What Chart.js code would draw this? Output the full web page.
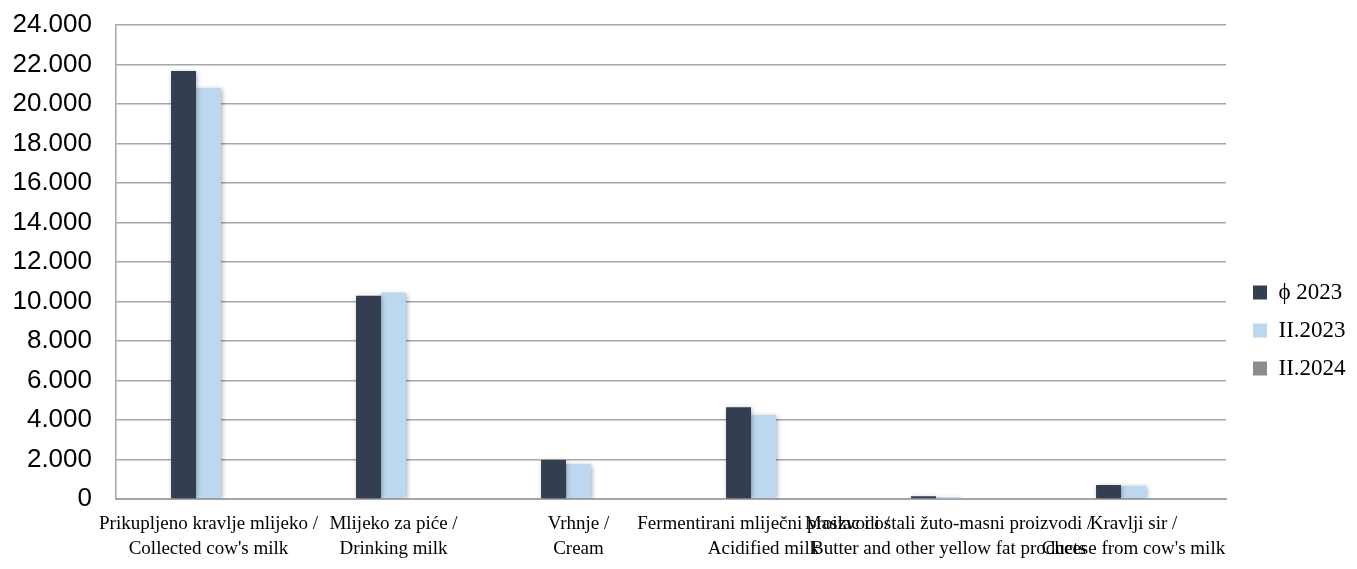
<!DOCTYPE html>
<html lang="hr">
<head>
    <meta charset="UTF-8">
    <title>Mlijeko i mliječni proizvodi</title>
    <script src="https://cdn.jsdelivr.net/npm/chart.js"></script>
    <style>
        html, body { margin: 0; padding: 0; background: #fff; }
        #wrap { width: 1357px; height: 569px; }
    </style>
</head>
<body>
<div id="wrap"><canvas id="milkChart"></canvas></div>

<script>
    // categories (two-line labels, Croatian / English)
    const categories = [
        ["Prikupljeno kravlje mlijeko /", "Collected cow's milk"],
        ["Mlijeko za piće /", "Drinking milk"],
        ["Vrhnje /", "Cream"],
        ["Fermentirani mliječni proizvodi /", "Acidified milk"],
        ["Maslac i ostali žuto-masni proizvodi /", "Butter and other yellow fat products"],
        ["Kravlji sir /", "Cheese from cow's milk"]
    ];
    const seriesNames = ["ϕ 2023", "II.2023", "II.2024"];
    const avg2023 = [21670, 10290, 1980, 4640, 140, 710];
    const feb2023 = [20810, 10450, 1770, 4250, 90, 660];
    const feb2024 = [0, 0, 0, 0, 0, 0];
    const yTicksMax = 24000;
    const yTickStep = 2000;

    const fmt = v => String(v).replace(/\B(?=(\d{3})+(?!\d))/g, ".");

    // push the legend a bit away from the plot, like the original
    const legendNudge = {
        id: "legendNudge",
        afterLayout(chart) {
            chart.legend.left += 12;
            chart.legend.right += 12;
        }
    };

    // soft shadow round the bars
    const barShadow = {
        id: "barShadow",
        beforeDatasetsDraw(chart) {
            const ctx = chart.ctx;
            ctx.save();
            ctx.shadowColor = "rgba(0, 0, 0, 0.35)";
            ctx.shadowBlur = 5;
            ctx.shadowOffsetX = 1;
            ctx.shadowOffsetY = 1;
        },
        afterDatasetsDraw(chart) {
            chart.ctx.restore();
        }
    };

    new Chart(document.getElementById("milkChart"), {
        type: "bar",
        data: {
            labels: categories,
            datasets: [
                { label: seriesNames[0], data: avg2023, backgroundColor: "#333f50" },
                { label: seriesNames[1], data: feb2023, backgroundColor: "#bdd7ee" },
                { label: seriesNames[2], data: feb2024, backgroundColor: "#8c8c8c" }
            ]
        },
        plugins: [legendNudge, barShadow],
        options: {
            responsive: true,
            maintainAspectRatio: false,
            animation: false,
            layout: { padding: 0 },
            datasets: { bar: { categoryPercentage: 0.405, barPercentage: 1.0 } },
            scales: {
                x: {
                    grid: { display: false, drawTicks: false },
                    border: { color: "#a6a6a6", width: 2 },
                    ticks: {
                        color: "#000",
                        autoSkip: false,
                        maxRotation: 0,
                        minRotation: 0,
                        padding: 12,
                        font: { family: "'Liberation Serif', serif", size: 19, lineHeight: 1.35 }
                    },
                    afterFit: s => {
                        s.height = 70;
                        s.paddingLeft = 0;
                        s.paddingRight = 131;
                    }
                },
                y: {
                    min: 0,
                    max: yTicksMax,
                    grid: { color: "#a6a6a6", lineWidth: 1.5, drawTicks: false },
                    border: { color: "#a6a6a6", width: 1.5 },
                    ticks: {
                        stepSize: yTickStep,
                        color: "#000",
                        padding: 24,
                        font: { family: "'Liberation Sans', Arial, sans-serif", size: 26 },
                        callback: v => fmt(v)
                    },
                    afterFit: s => {
                        s.width = 116;
                        s.paddingTop = 25;
                    }
                }
            },
            plugins: {
                tooltip: { enabled: false },
                legend: {
                    position: "right",
                    title: { display: true, text: "", font: { size: 10 }, padding: { top: 80, bottom: 0 } },
                    labels: {
                        color: "#000",
                        boxWidth: 14,
                        boxHeight: 14,
                        padding: 15,
                        font: { family: "'Liberation Serif', serif", size: 23 }
                    }
                }
            }
        }
    });
</script>
</body>
</html>
